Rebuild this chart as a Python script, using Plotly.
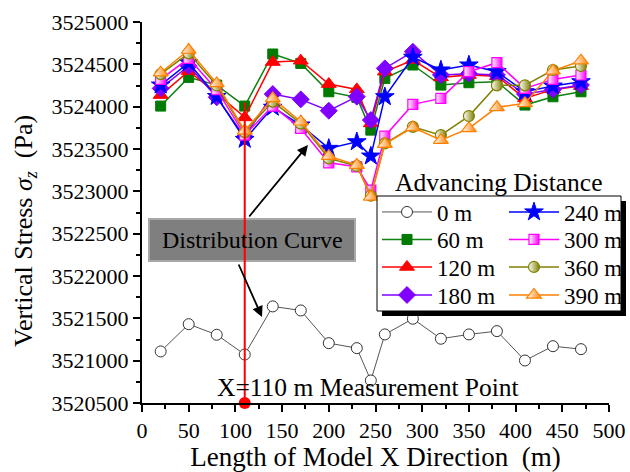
import plotly.graph_objects as go

# Measurement positions along the model (m)
x_pos = [20, 50, 80, 110, 140, 170, 200, 230, 245, 260, 290, 320, 350, 380, 410, 440, 470]

# Vertical stress (Pa) at each position for every advancing distance
s_0 = [3521109, 3521431, 3521306, 3521073, 3521641, 3521593, 3521207, 3521148, 3520766,
       3521310, 3521495, 3521259, 3521310, 3521349, 3521002, 3521171, 3521136]
s_60 = [3524007, 3524346, 3524255, 3524007, 3524622, 3524511, 3524176, 3524110, 3523723,
        3524334, 3524492, 3524255, 3524283, 3524294, 3524019, 3524117, 3524176]
s_120 = [3524137, 3524420, 3524157, 3523873, 3524527, 3524543, 3524267, 3524204, 3523802,
         3524413, 3524551, 3524346, 3524374, 3524360, 3524098, 3524204, 3524243]
s_180 = [3524216, 3524480, 3524110, 3523644, 3524149, 3524086, 3523952, 3524118, 3523842,
         3524452, 3524649, 3524374, 3524390, 3524374, 3524149, 3524204, 3524255]
s_240 = [3524255, 3524519, 3524120, 3523613, 3523992, 3523783, 3523507, 3523585, 3523416,
         3524117, 3524583, 3524433, 3524492, 3524413, 3524176, 3524243, 3524294]
s_300 = [3524322, 3524571, 3524200, 3523664, 3524007, 3523743, 3523337, 3523290, 3523014,
         3523652, 3524027, 3524098, 3524413, 3524519, 3524216, 3524322, 3524374]
s_360 = [3524385, 3524630, 3524250, 3523700, 3524060, 3523800, 3523389, 3523300, 3522950,
         3523566, 3523762, 3523664, 3523889, 3524252, 3524252, 3524433, 3524480]
s_390 = [3524401, 3524669, 3524275, 3523715, 3524098, 3523822, 3523416, 3523310, 3522935,
         3523558, 3523755, 3523605, 3523743, 3523992, 3524039, 3524424, 3524543]

series_names = ["0 m", "60 m", "120 m", "180 m", "240 m", "300 m", "360 m", "390 m"]

# Measurement point marked by the vertical red line
point_x = 110
point_top = 3524050

x_ticks = [0, 50, 100, 150, 200, 250, 300, 350, 400, 450, 500]
y_ticks = [3520500, 3521000, 3521500, 3522000, 3522500, 3523000, 3523500, 3524000, 3524500, 3525000]

FONT = "Liberation Serif"
W, H = 630, 472
L, R, T, B = 142, 21, 22, 69
PW, PH = W - L - R, H - T - B


def fx(p):
    return (p - L) / PW


def fy(p):
    return (H - B - p) / PH


styles = [
    dict(line="#555555", lw=1, marker=dict(symbol="circle", size=11, color="white",
                                           line=dict(color="#333333", width=1))),
    dict(line="#108010", lw=1.5, marker=dict(symbol="square", size=10, color="#007a00",
                                             line=dict(color="#007a00", width=1))),
    dict(line="#ff0000", lw=1.5, marker=dict(symbol="triangle-up", size=13, color="#ff0000",
                                             line=dict(color="#ff0000", width=1))),
    dict(line="#8000ff", lw=1.5, marker=dict(symbol="diamond", size=13, color="#8000ff",
                                             line=dict(color="#8000ff", width=1))),
    dict(line="#0000ff", lw=1.5, marker=dict(symbol="star", size=14, color="#0000ff",
                                             line=dict(color="#0000ff", width=1))),
    dict(line="#ff00ff", lw=1.5, marker=dict(symbol="square", size=10, color="white",
                                             gradient=dict(type="horizontal", color="#ff00ff"),
                                             line=dict(color="#ff00ff", width=1.2))),
    dict(line="#808000", lw=1.5, marker=dict(symbol="circle", size=11, color="white",
                                             gradient=dict(type="horizontal", color="#808000"),
                                             line=dict(color="#808000", width=1.2))),
    dict(line="#ff8000", lw=1.5, marker=dict(symbol="triangle-up", size=13, color="white",
                                             gradient=dict(type="horizontal", color="#ff8000"),
                                             line=dict(color="#ff8000", width=1.2))),
]

all_series = [s_0, s_60, s_120, s_180, s_240, s_300, s_360, s_390]

# legend rows: (0 m, 240 m), (60 m, 300 m), (120 m, 360 m), (180 m, 390 m)
legend_ids = ["legend", "legend2", "legend3", "legend4"]

fig = go.Figure()
for i, (name, ys, st) in enumerate(zip(series_names, all_series, styles)):
    fig.add_trace(go.Scatter(
        x=x_pos, y=ys, name=name, mode="lines+markers",
        line=dict(color=st["line"], width=st["lw"]),
        marker=st["marker"],
        legend=legend_ids[i % 4],
        legendrank=i // 4,
    ))

# Vertical marker line at the measurement point and its base dot
fig.add_trace(go.Scatter(x=[point_x, point_x], y=[point_top, y_ticks[0]], mode="lines",
                         line=dict(color="#ff0000", width=2), showlegend=False,
                         hoverinfo="skip"))
fig.add_trace(go.Scatter(x=[point_x], y=[y_ticks[0]], mode="markers",
                         marker=dict(color="#ff0000", size=12), showlegend=False,
                         cliponaxis=False, hoverinfo="skip"))

axis_common = dict(
    showline=True, linecolor="black", linewidth=2, mirror=False,
    ticks="outside", ticklen=7, tickwidth=1.5, tickcolor="black",
    showgrid=False, zeroline=False,
    tickfont=dict(family=FONT, size=22, color="black"),
)

fig.update_xaxes(
    range=[0, 500], tickvals=x_ticks,
    minor=dict(ticks="outside", ticklen=4, tickwidth=1.5, tickcolor="black", dtick=25),
    title=dict(text="Length of Model X Direction  (m)",
               font=dict(family=FONT, size=27, color="black"), standoff=5),
    **axis_common,
)
fig.update_yaxes(
    range=[y_ticks[0], y_ticks[-1]], tickvals=y_ticks, tickformat="d",
    minor=dict(ticks="outside", ticklen=4, tickwidth=1.5, tickcolor="black", dtick=250),
    **axis_common,
)

legend_common = dict(
    orientation="h", bgcolor="rgba(0,0,0,0)", borderwidth=0,
    font=dict(family=FONT, size=23, color="black"),
    itemwidth=50, entrywidth=62, entrywidthmode="pixels",
    yanchor="middle", xanchor="left", traceorder="normal",
    itemclick=False, itemdoubleclick=False,
)
row_centers = [212, 239.5, 267, 295]
legends = {
    lid: dict(x=fx(377), y=fy(yc), **legend_common)
    for lid, yc in zip(legend_ids, row_centers)
}

shapes = [
    # legend frame with drop shadow
    dict(type="rect", xref="paper", yref="paper", layer="above",
         x0=fx(382), x1=fx(626), y0=fy(316), y1=fy(201),
         fillcolor="black", line=dict(width=0)),
    dict(type="rect", xref="paper", yref="paper", layer="above",
         x0=fx(377), x1=fx(621), y0=fy(311), y1=fy(196),
         fillcolor="white", line=dict(color="black", width=1)),
    # label box
    dict(type="rect", xref="paper", yref="paper", layer="below",
         x0=fx(149), x1=fx(355), y0=fy(261), y1=fy(219),
         fillcolor="#7f7f7f", line=dict(color="#a8a8a8", width=2)),
]

annotations = [
    # y-axis title, rotated
    dict(text="Vertical Stress <i>σ</i><sub><i>z</i></sub>  (Pa)", textangle=-90,
         xref="paper", yref="paper", x=fx(25), y=fy(231),
         showarrow=False, font=dict(family=FONT, size=26, color="black"),
         xanchor="center", yanchor="middle"),
    dict(text="Advancing Distance", xref="paper", yref="paper", x=fx(498), y=fy(182),
         showarrow=False, font=dict(family=FONT, size=25.5, color="black"),
         xanchor="center", yanchor="middle"),
    dict(text="Distribution Curve", xref="paper", yref="paper", x=fx(252), y=fy(240),
         showarrow=False, font=dict(family=FONT, size=24, color="black"),
         xanchor="center", yanchor="middle"),
    dict(text="X=110 m Measurement Point", xref="paper", yref="paper", x=fx(368), y=fy(387),
         showarrow=False, font=dict(family=FONT, size=25.5, color="black"),
         xanchor="center", yanchor="middle"),
    dict(text="", xref="paper", yref="paper", x=fx(308), y=fy(145),
         ax=-60, ay=73, showarrow=True, arrowhead=2, arrowsize=1.2, arrowwidth=1.8,
         arrowcolor="black"),
    dict(text="", xref="paper", yref="paper", x=fx(262), y=fy(317),
         ax=-24, ay=-54, showarrow=True, arrowhead=2, arrowsize=1.2, arrowwidth=1.8,
         arrowcolor="black"),
]

fig.update_layout(
    width=W, height=H,
    margin=dict(l=L, r=R, t=T, b=B, pad=0, autoexpand=False),
    plot_bgcolor="white", paper_bgcolor="white",
    font=dict(family=FONT, color="black"),
    shapes=shapes, annotations=annotations,
    **legends,
)

fig.write_html("out.html")
